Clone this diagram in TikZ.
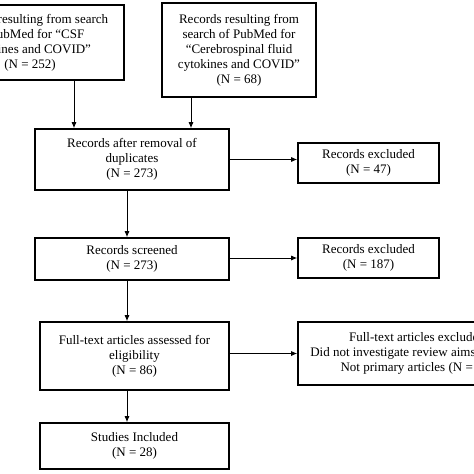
\documentclass[tikz,border=0pt]{standalone}
\usepackage{fontspec}
\setmainfont{Liberation Serif}
\usetikzlibrary{arrows.meta}
\begin{document}
\begin{tikzpicture}[x=1pt,y=-1pt,
  box/.style={draw=black, line width=1.6pt, rectangle, inner sep=0pt, align=center,
    font=\fontsize{13}{15}\selectfont},
  arr/.style={line width=0.9pt, -{Latex[length=6pt,width=5pt]}}]
\useasboundingbox (0,0) rectangle (474,474);
\clip (0,0) rectangle (474,474);
\fill[white] (0,0) rectangle (474,474);
\node[box, minimum width=188pt, minimum height=75pt] (A) at (30,42.5)
  {Records resulting from search\\of PubMed for ``CSF\\cytokines and COVID''\\(N = 252)};
\node[box, minimum width=154pt, minimum height=94pt] (B) at (239,50)
  {Records resulting from\\search of PubMed for\\``Cerebrospinal fluid\\cytokines and COVID''\\(N = 68)};
\node[box, minimum width=194pt, minimum height=61pt] (C) at (132,159.5)
  {Records after removal of\\duplicates\\(N = 273)};
\node[box, minimum width=141pt, minimum height=40pt] (D) at (368.5,163)
  {Records excluded\\(N = 47)};
\node[box, minimum width=194pt, minimum height=42pt] (E) at (132,259)
  {Records screened\\(N = 273)};
\node[box, minimum width=141pt, minimum height=40pt] (F) at (368.5,258)
  {Records excluded\\(N = 187)};
\node[box, minimum width=189pt, minimum height=68pt] (G) at (134.5,356)
  {Full-text articles assessed for\\eligibility\\(N = 86)};
\node[box, minimum width=238pt, minimum height=63pt] (H) at (417,353.5)
  {Full-text articles excluded\\Did not investigate review aims (N = 38)\\Not primary articles (N = 20)};
\node[box, minimum width=189pt, minimum height=46pt] (I) at (134.5,446)
  {Studies Included\\(N = 28)};
\coordinate (xa) at (74,0);
\coordinate (xb) at (191,0);
\coordinate (xm) at (127,0);
\draw[arr] (A.south -| xa) -- (C.north -| xa);
\draw[arr] (B.south -| xb) -- (C.north -| xb);
\draw[arr] (C.south -| xm) -- (E.north -| xm);
\draw[arr] (E.south -| xm) -- (G.north -| xm);
\draw[arr] (G.south -| xm) -- (I.north -| xm);
\draw[arr] (C.east) -- (C.east -| D.west);
\draw[arr] (F.west -| E.east) -- (F.west);
\draw[arr] (H.west -| G.east) -- (H.west);
\end{tikzpicture}
\end{document}
